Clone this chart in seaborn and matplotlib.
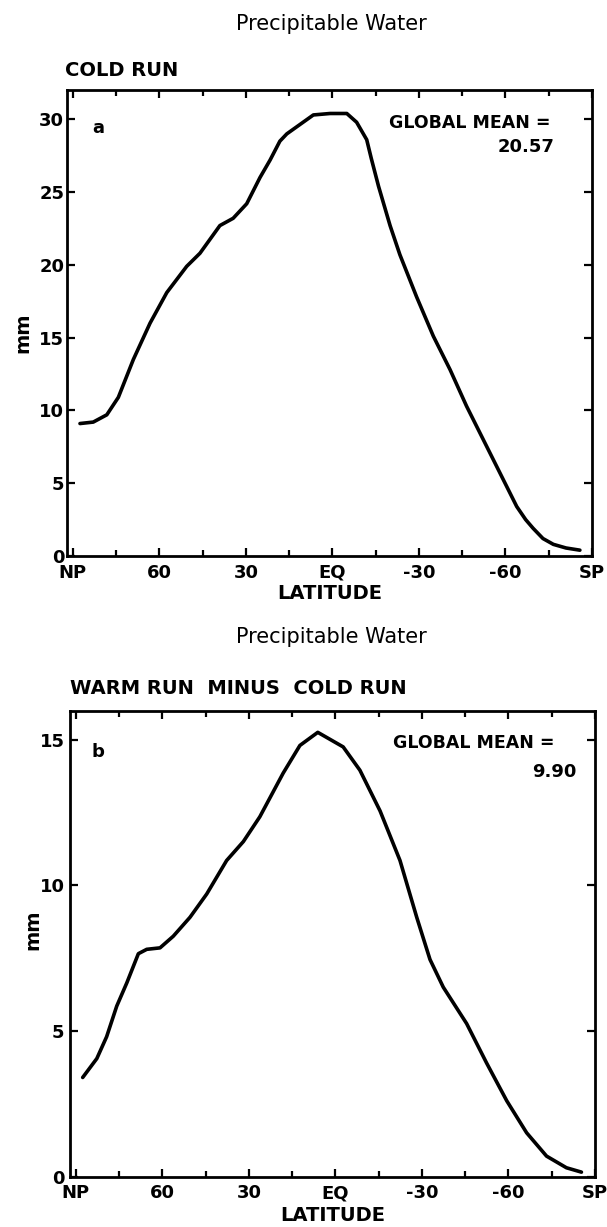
import matplotlib
matplotlib.use("Agg")
import matplotlib.pyplot as plt
import seaborn as sns
from matplotlib.ticker import FixedLocator

# Zonal-mean precipitable water (mm) versus latitude
cold_lat = [87.5, 82.9, 78.2, 74.2, 69.0, 63.2, 57.4, 50.5, 45.9, 39.0, 34.4,
            29.7, 25.1, 21.6, 18.2, 15.8, 6.6, 0.8, -5.0, -8.4, -11.9, -13.5,
            -16.0, -20.0, -23.4, -29.2, -35.0, -40.8, -46.5, -52.3, -58.1,
            -63.9, -67.0, -69.6, -73.0, -76.6, -81.0, -85.8]
cold_pw = [9.1, 9.2, 9.7, 10.9, 13.5, 16.0, 18.1, 19.9, 20.8, 22.7, 23.2,
           24.2, 26.0, 27.2, 28.5, 29.0, 30.3, 30.4, 30.4, 29.8, 28.6, 27.3,
           25.4, 22.7, 20.7, 17.8, 15.1, 12.8, 10.3, 8.0, 5.7,
           3.4, 2.5, 1.9, 1.2, 0.8, 0.55, 0.4]

diff_lat = [87.6, 82.7, 79.3, 75.8, 72.3, 68.3, 65.4, 60.8, 56.2, 50.4, 44.6,
            37.7, 31.9, 26.2, 18.1, 12.3, 6.1, -2.7, -8.5, -15.5, -22.4,
            -28.2, -32.8, -37.4, -45.5, -52.4, -59.4, -66.3, -73.2, -80.1,
            -85.3]
diff_pw = [3.4, 4.05, 4.8, 5.85, 6.65, 7.65, 7.8, 7.85, 8.25, 8.9, 9.7,
           10.85, 11.5, 12.35, 13.85, 14.8, 15.25, 14.75, 13.95, 12.55, 10.85,
           8.9, 7.45, 6.5, 5.25, 3.9, 2.6, 1.5, 0.7, 0.3,
           0.15]

cold_mean = "20.57"
diff_mean = "9.90"

lat_ticks = [90, 60, 30, 0, -30, -60, -90]
lat_labels = ["NP", "60", "30", "EQ", "-30", "-60", "SP"]
lat_minor = [75, 45, 15, -15, -45, -75]

sns.set_style("ticks")
plt.rcParams["font.family"] = ["DejaVu Sans"]
plt.rcParams["font.weight"] = "bold"
plt.rcParams["axes.labelweight"] = "bold"
plt.rcParams["text.color"] = "black"
plt.rcParams["axes.labelcolor"] = "black"
plt.rcParams["xtick.color"] = "black"
plt.rcParams["ytick.color"] = "black"

W, H = 607, 1227
fig = plt.figure(figsize=(W / 100, H / 100), dpi=100)


def frac_rect(left, top, right, bottom):
    return [left / W, 1 - bottom / H, (right - left) / W, (bottom - top) / H]


ax1 = fig.add_axes(frac_rect(67, 90.2, 592, 556))
ax2 = fig.add_axes(frac_rect(70, 710.5, 595, 1176.5))


def style_axes(ax, ymax, ystep, ypad):
    ax.set_xlim(92, -90)
    ax.set_ylim(0, ymax)
    ax.xaxis.set_major_locator(FixedLocator(lat_ticks))
    ax.xaxis.set_minor_locator(FixedLocator(lat_minor))
    ax.set_xticklabels(lat_labels)
    ax.set_yticks(list(range(0, int(ymax) + 1, ystep)))
    for s in ax.spines.values():
        s.set_linewidth(2.0)
        s.set_color("black")
    ax.tick_params(axis="both", which="both", direction="in",
                   top=True, right=True, colors="black", width=1.6)
    ax.tick_params(axis="both", which="major", length=5.5)
    ax.tick_params(axis="x", which="minor", length=4)
    ax.tick_params(axis="x", which="major", pad=5.5, labelsize=13)
    ax.tick_params(axis="y", which="major", pad=ypad, labelsize=13)
    ax.set_xlabel("LATITUDE", fontsize=14, fontweight="bold")
    ax.set_ylabel("mm", fontsize=14, fontweight="bold")
    ax.grid(False)


sns.lineplot(x=cold_lat, y=cold_pw, ax=ax1, sort=False, color="black",
             linewidth=2.6)
sns.lineplot(x=diff_lat, y=diff_pw, ax=ax2, sort=False, color="black",
             linewidth=2.6)

style_axes(ax1, 32, 5, 2)
style_axes(ax2, 16, 5, 4)

ax1.xaxis.set_label_coords(0.501, -0.06)
ax1.yaxis.set_label_coords(-0.065, 0.479)
ax2.xaxis.set_label_coords(0.501, -0.063)
ax2.yaxis.set_label_coords(-0.053, 0.529)

# Panel letters and global-mean annotations
ax1.text(0.059, 0.919, "a", transform=ax1.transAxes, fontsize=13,
         fontweight="bold", ha="center", va="center")
ax1.text(0.613, 0.9296, "GLOBAL MEAN =", transform=ax1.transAxes,
         fontsize=12.5, fontweight="bold", ha="left", va="center")
ax1.text(0.9295, 0.878, cold_mean, transform=ax1.transAxes,
         fontsize=13, fontweight="bold", ha="right", va="center")

ax2.text(0.0533, 0.911, "b", transform=ax2.transAxes, fontsize=13,
         fontweight="bold", ha="center", va="center")
ax2.text(0.615, 0.930, "GLOBAL MEAN =", transform=ax2.transAxes,
         fontsize=12.5, fontweight="bold", ha="left", va="center")
ax2.text(0.9657, 0.868, diff_mean, transform=ax2.transAxes,
         fontsize=13, fontweight="bold", ha="right", va="center")

# Titles
fig.text(331 / W, 1 - 24 / H, "Precipitable Water", fontsize=15,
         fontweight="normal", ha="center", va="center")
fig.text(65 / W, 1 - 71 / H, "COLD RUN", fontsize=14, fontweight="bold",
         ha="left", va="center")
fig.text(331 / W, 1 - 637 / H, "Precipitable Water", fontsize=15,
         fontweight="normal", ha="center", va="center")
fig.text(70 / W, 1 - 689 / H, "WARM RUN  MINUS  COLD RUN", fontsize=14,
         fontweight="bold", ha="left", va="center")

fig.savefig("out.png", dpi=100, facecolor="white")
